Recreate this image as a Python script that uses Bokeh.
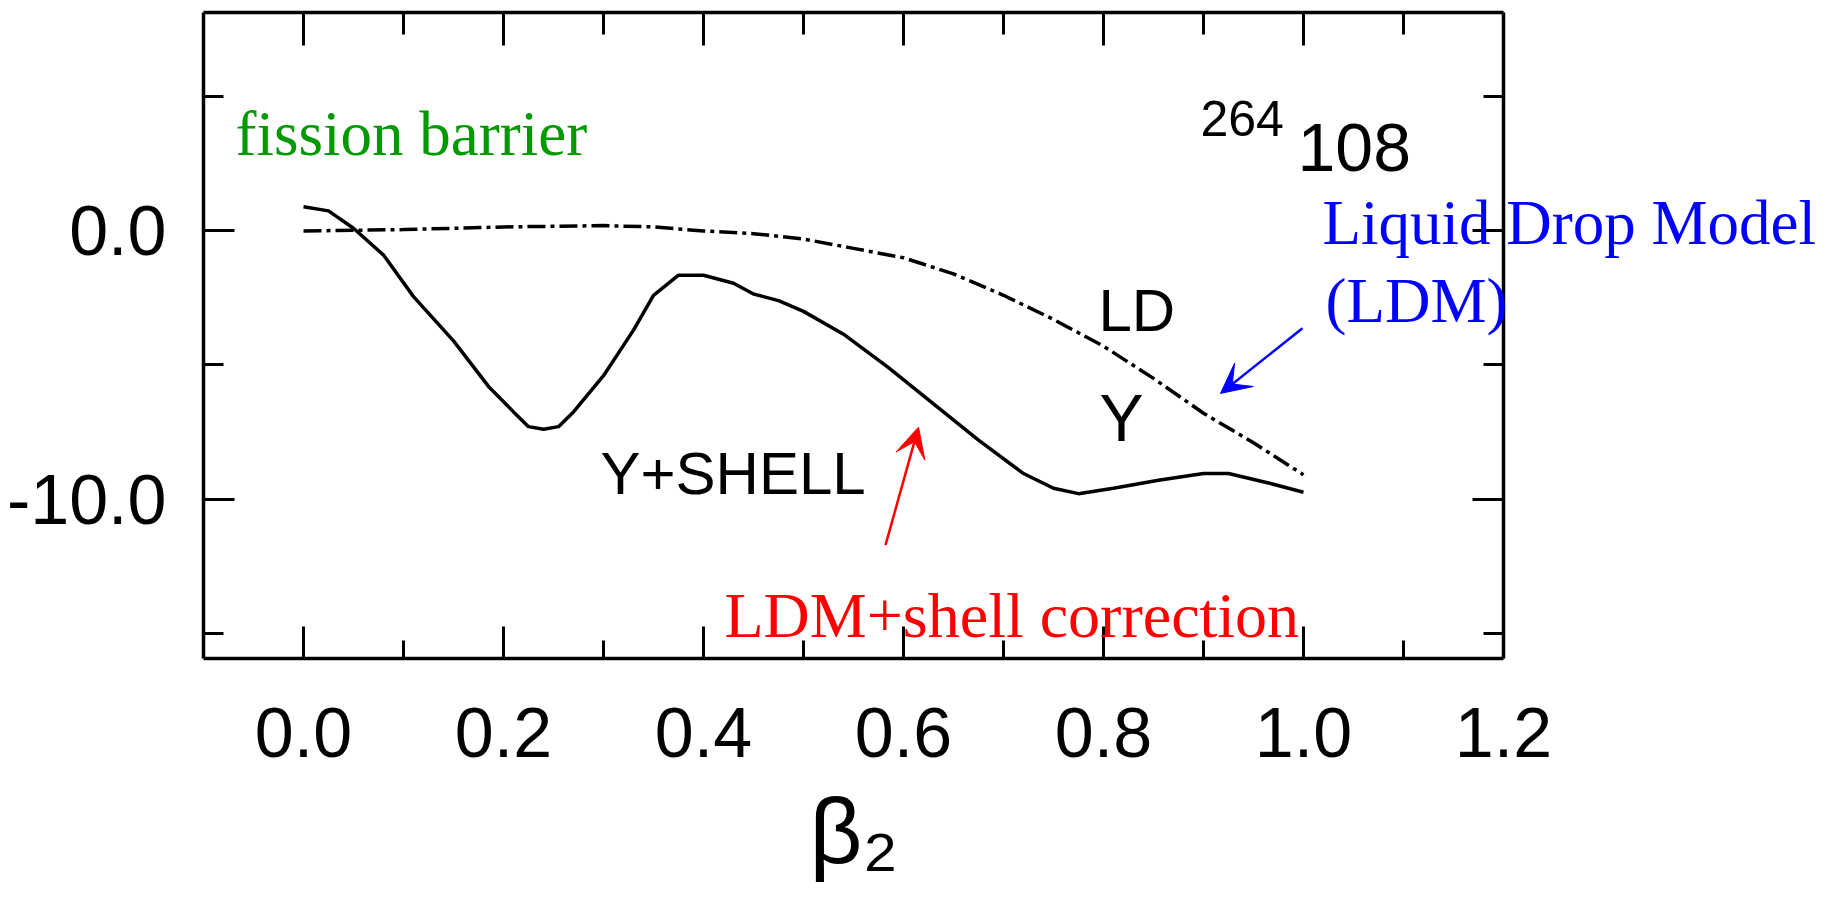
from bokeh.plotting import figure
from bokeh.models import (Range1d, LinearAxis, FixedTicker, Label, Arrow, VeeHead, Title)
from bokeh.embed import file_html
from bokeh.resources import INLINE

# ---- data ----
ld_beta = [0.0, 0.1, 0.2, 0.3, 0.35, 0.4, 0.45, 0.5, 0.55, 0.6, 0.65, 0.7, 0.75, 0.8, 0.85, 0.9, 0.95, 1.0]
ld_energy = [0.0, 0.05, 0.15, 0.2, 0.15, 0.0, -0.1, -0.3, -0.65, -1.0, -1.6, -2.4, -3.3, -4.3, -5.5, -6.8, -7.9, -9.1]

sh_beta = [0.0, 0.025, 0.05, 0.08, 0.11, 0.15, 0.185, 0.21, 0.225, 0.24, 0.255, 0.27, 0.30, 0.33,
           0.35, 0.375, 0.40, 0.43, 0.45, 0.475, 0.50, 0.54, 0.585, 0.63, 0.675, 0.72, 0.75, 0.775,
           0.81, 0.855, 0.90, 0.925, 0.965, 1.0]
sh_energy = [0.9, 0.75, 0.1, -0.9, -2.45, -4.1, -5.8, -6.75, -7.3, -7.4, -7.3, -6.75, -5.4, -3.7,
             -2.4, -1.65, -1.65, -1.95, -2.35, -2.6, -3.0, -3.85, -5.1, -6.45, -7.8, -9.05, -9.6, -9.8,
             -9.6, -9.3, -9.05, -9.05, -9.4, -9.75]

x_major = [0.0, 0.2, 0.4, 0.6, 0.8, 1.0, 1.2]
x_minor = [0.1, 0.3, 0.5, 0.7, 0.9, 1.1]
x_labels = ["0.0", "0.2", "0.4", "0.6", "0.8", "1.0", "1.2"]
y_major = [0.0, -10.0]
y_minor = [5.0, -5.0, -15.0]
y_labels = ["0.0", "-10.0"]
x_axis_title = "β₂"

X_MIN, X_MAX = -0.1, 1.2      # box of the chart
Y_MIN, Y_MAX = -15.95, 8.15

SANS = "Liberation Sans"
SERIF = "Liberation Serif"

# frame is wider than the axis box so that the right-hand annotation is not clipped
p = figure(width=1831, height=909, output_backend="svg", toolbar_location=None,
           x_range=Range1d(X_MIN, 1.518), y_range=Range1d(Y_MIN, Y_MAX),
           x_axis_type=None, y_axis_type=None,
           min_border_left=203, min_border_right=10, min_border_top=12, min_border_bottom=251)
p.outline_line_color = None
p.background_fill_color = "white"
p.border_fill_color = "white"
p.xgrid.visible = False
p.ygrid.visible = False


def style_axis(ax, major_in, minor_in, show_labels):
    ax.axis_line_width = 3.5
    ax.axis_line_color = "black"
    ax.major_tick_line_width = 3
    ax.minor_tick_line_width = 3
    ax.major_tick_in = major_in
    ax.major_tick_out = 0
    ax.minor_tick_in = minor_in
    ax.minor_tick_out = 0
    if show_labels:
        ax.major_label_text_font = SANS
        ax.major_label_text_font_size = "70px"
        ax.major_label_text_color = "black"
    else:
        ax.major_label_text_font_size = "0px"
        ax.major_label_standoff = 0


xt = FixedTicker(ticks=x_major, minor_ticks=x_minor)
yt = FixedTicker(ticks=y_major, minor_ticks=y_minor)

bottom = LinearAxis(ticker=xt, major_label_overrides=dict(zip(x_major, x_labels)),
                    bounds=(X_MIN, X_MAX))
style_axis(bottom, 32, 18, True)
bottom.major_label_standoff = 49
p.add_layout(bottom, "below")

top = LinearAxis(ticker=xt, major_label_overrides={v: "" for v in x_major}, bounds=(X_MIN, X_MAX))
style_axis(top, 33, 22, False)
p.add_layout(top, "above")

left = LinearAxis(ticker=yt, major_label_overrides=dict(zip(y_major, y_labels)))
style_axis(left, 31, 20, True)
left.major_label_standoff = 37
p.add_layout(left, "left")

right = LinearAxis(ticker=yt, major_label_overrides={v: "" for v in y_major}, fixed_location=X_MAX)
style_axis(right, 31, 20, False)
p.add_layout(right, "right")

# x-axis title, placed under the axis box (offset from the frame's left edge)
p.add_layout(Title(text=x_axis_title, align="left", offset=606, standoff=36,
                   text_font=SANS, text_font_size="92px", text_font_style="normal",
                   text_color="black"), "below")

# curves
p.line(ld_beta, ld_energy, line_color="black", line_width=3.5, line_dash="18 5 4 5")
p.line(sh_beta, sh_energy, line_color="black", line_width=3.5)

# text annotations (positions in data units)
texts = [
    (-0.068, 3.63, "fission barrier", SERIF, "63px", "#009900"),
    (0.897, 4.19, "264", SANS, "50px", "black"),
    (0.994, 3.11, "108", SANS, "68px", "black"),
    (0.795, -2.96, "LD", SANS, "60px", "black"),
    (0.796, -6.99, "Y", SANS, "66px", "black"),
    (0.297, -9.04, "Y+SHELL", SANS, "60px", "black"),
    (1.019, 0.28, "Liquid Drop Model", SERIF, "63px", "#0000FF"),
    (1.022, -2.63, "(LDM)", SERIF, "63px", "#0000FF"),
    (0.421, -14.33, "LDM+shell correction", SERIF, "64px", "#FF0000"),
]
for x, y, t, f, s, c in texts:
    p.add_layout(Label(x=x, y=y, text=t, text_font=f, text_font_size=s, text_color=c,
                       text_align="left", text_baseline="alphabetic"))

# arrows
blue_arrow = ((0.999, -3.63), (0.917, -6.06))
red_arrow = ((0.582, -11.72), (0.615, -7.32))
for (xs, ys), (xe, ye), col in [(blue_arrow[0], blue_arrow[1], "#0000FF"),
                                 (red_arrow[0], red_arrow[1], "#FF0000")]:
    p.add_layout(Arrow(x_start=xs, y_start=ys, x_end=xe, y_end=ye, line_color=col, line_width=2.5,
                       end=VeeHead(size=30, fill_color=col, line_color=col, line_width=1)))

open("out.html", "w").write(file_html(p, INLINE))
